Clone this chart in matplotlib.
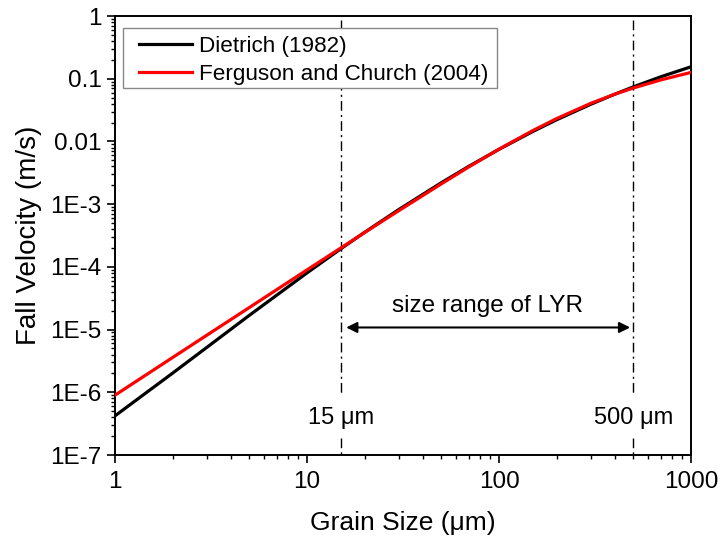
import numpy as np
import matplotlib
matplotlib.use('Agg')
import matplotlib.pyplot as plt
from matplotlib.patches import Rectangle
from matplotlib.ticker import FixedLocator, LogLocator, NullFormatter

plt.rcParams['font.family'] = ['Liberation Sans', 'DejaVu Sans']

# grain size (um) and fall velocity (m/s)
grain_size = [1, 2, 3, 5, 10, 15, 20, 30, 50, 70, 100, 150, 200, 300, 400, 500, 700, 1000]
dietrich = [4.21e-7, 2.03e-6, 5.17e-6, 1.68e-5, 8.01e-5, 1.94e-4, 3.57e-4, 8.17e-4,
            2.19e-3, 4.05e-3, 7.48e-3, 1.44e-2, 2.22e-2, 3.90e-2, 5.65e-2, 7.40e-2,
            0.108, 0.155]
ferguson = [8.99e-7, 3.60e-6, 8.09e-6, 2.24e-5, 8.94e-5, 2.00e-4, 3.54e-4, 7.84e-4,
            2.10e-3, 3.96e-3, 7.53e-3, 1.49e-2, 2.32e-2, 4.04e-2, 5.65e-2, 7.11e-2,
            0.0961, 0.126]

lyr_range = [15, 500]
y_ticks = [1e-7, 1e-6, 1e-5, 1e-4, 1e-3, 1e-2, 1e-1, 1]
y_labels = ['1E-7', '1E-6', '1E-5', '1E-4', '1E-3', '0.01', '0.1', '1']
x_ticks = [1, 10, 100, 1000]
x_labels = ['1', '10', '100', '1000']

fig = plt.figure(figsize=(7.21, 5.37), dpi=100)
ax = fig.add_axes([0.1595, 0.1527, 0.7989, 0.8175])

ax.plot(grain_size, dietrich, color='black', lw=2.3, label='Dietrich (1982)', zorder=3)
ax.plot(grain_size, ferguson, color='#ff0000', lw=2.3, label='Ferguson and Church (2004)', zorder=4)

ax.set_xscale('log')
ax.set_yscale('log')
ax.set_xlim(1, 1000)
ax.set_ylim(1e-7, 1)

# dash-dot markers at the ends of the size range, broken around the labels
dd = (0, (7, 3, 1.5, 3))
for x in lyr_range:
    ax.plot([x, x], [0.86, 9.5e-7], color='black', lw=1.0, linestyle=dd, zorder=2)
    ax.plot([x, x], [1.9e-7, 1e-7], color='black', lw=1.0, linestyle=dd, zorder=2)
    ax.text(x, 3.9e-7, f'{x} μm', ha='center', va='center', fontsize=17)

ax.annotate('', xy=(16, 1.08e-5), xytext=(482, 1.08e-5),
            arrowprops=dict(arrowstyle='<|-|>', color='black', lw=1.5,
                            mutation_scale=16, shrinkA=0, shrinkB=0))
ax.text(87, 2.4e-5, 'size range of LYR', ha='center', va='center', fontsize=17.5)

ax.yaxis.set_major_locator(FixedLocator(y_ticks))
ax.set_yticklabels(y_labels)
ax.xaxis.set_major_locator(FixedLocator(x_ticks))
ax.set_xticklabels(x_labels)
ax.xaxis.set_minor_locator(LogLocator(base=10, subs=np.arange(2, 10), numticks=100))
ax.yaxis.set_minor_locator(LogLocator(base=10, subs=np.arange(2, 10), numticks=100))
ax.xaxis.set_minor_formatter(NullFormatter())
ax.yaxis.set_minor_formatter(NullFormatter())

ax.tick_params(which='major', direction='out', length=6, width=1.2, labelsize=17.5,
               top=False, right=False)
ax.tick_params(axis='x', which='major', pad=5.5)
ax.tick_params(which='minor', direction='out', length=3, width=1.0, top=False, right=False)
for s in ax.spines.values():
    s.set_linewidth(1.4)

ax.set_xlabel('Grain Size (μm)', fontsize=19, labelpad=13)
ax.set_ylabel('Fall Velocity (m/s)', fontsize=20, labelpad=6)

# legend box drawn separately so the inner padding can be wider than tall
ax.add_patch(Rectangle((0.014, 0.836), 0.649, 0.137, transform=ax.transAxes,
                       facecolor='white', edgecolor='#888888', lw=1.0, zorder=5))
leg = ax.legend(loc='upper left', fontsize=16.2, frameon=False, handlelength=2.35,
                handletextpad=0.3, borderpad=0, labelspacing=0.3, borderaxespad=0,
                bbox_to_anchor=(0.0417, 0.9545))
leg.set_zorder(6)

fig.savefig('out.png', dpi=100)
